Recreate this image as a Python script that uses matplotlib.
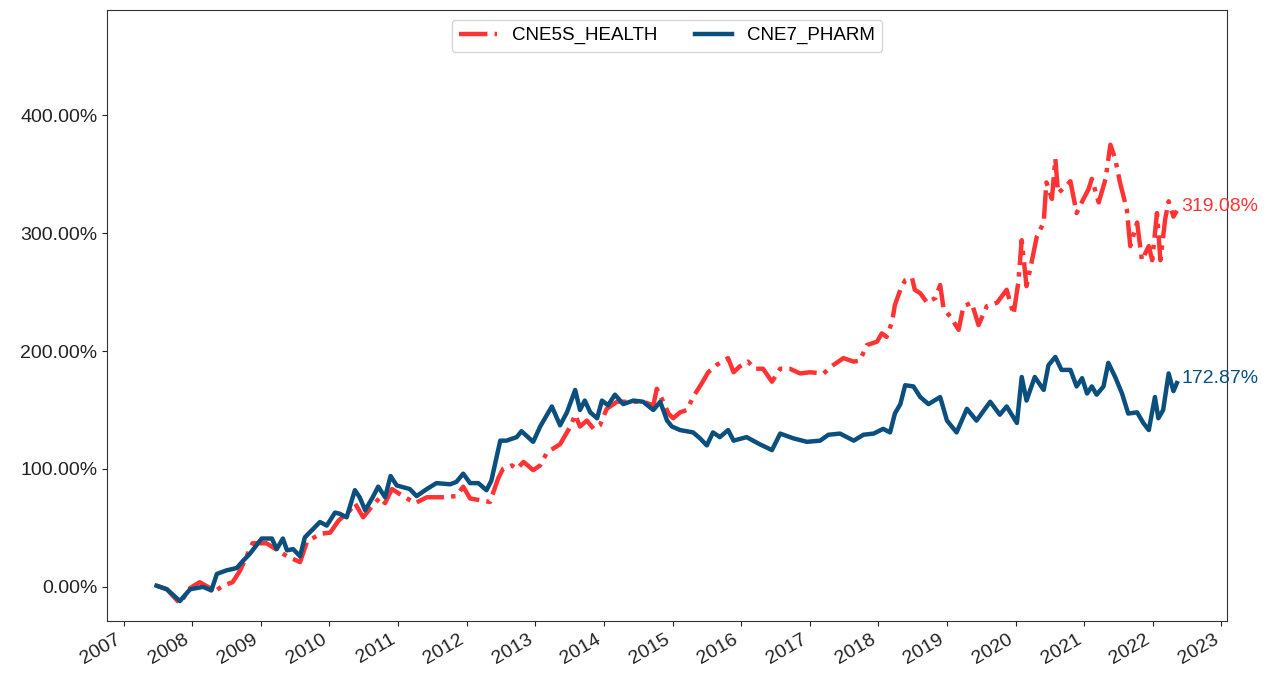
import numpy as np
import pandas as pd
import matplotlib
matplotlib.use("Agg")
import matplotlib.pyplot as plt
import matplotlib.dates as mdates
from matplotlib.ticker import PercentFormatter, MultipleLocator

plt.rcParams['font.family'] = ['Liberation Sans', 'DejaVu Sans']

# ------------------------------ data ------------------------------
# decimal years and cumulative return in %
health_t = [2007.48, 2007.63, 2007.82, 2007.97, 2008.11, 2008.26, 2008.30, 2008.45, 2008.59,
            2008.70, 2008.88, 2009.08, 2009.38, 2009.57, 2009.67, 2009.86, 2010.01, 2010.13,
            2010.30, 2010.37, 2010.49, 2010.63, 2010.74, 2010.81, 2010.91, 2011.07, 2011.25,
            2011.42, 2011.65, 2011.85, 2011.95, 2012.05, 2012.24, 2012.34, 2012.46, 2012.53,
            2012.66, 2012.73, 2012.83, 2012.97, 2013.07, 2013.17, 2013.36, 2013.51, 2013.58,
            2013.65, 2013.75, 2013.85, 2013.94, 2014.04, 2014.19, 2014.33, 2014.57, 2014.72,
            2014.77, 2014.84, 2014.94, 2015.01, 2015.11, 2015.21, 2015.30, 2015.43, 2015.52,
            2015.64, 2015.69, 2015.81, 2015.89, 2015.98, 2016.10, 2016.20, 2016.32, 2016.45,
            2016.57, 2016.71, 2016.86, 2017.00, 2017.20, 2017.34, 2017.49, 2017.64, 2017.73,
            2017.83, 2017.98, 2018.05, 2018.12, 2018.20, 2018.24, 2018.32, 2018.39, 2018.49,
            2018.53, 2018.61, 2018.71, 2018.83, 2018.90, 2018.95, 2019.05, 2019.17, 2019.24,
            2019.36, 2019.46, 2019.58, 2019.73, 2019.87, 2019.97, 2020.04, 2020.09, 2020.16,
            2020.24, 2020.31, 2020.41, 2020.45, 2020.53, 2020.58, 2020.62, 2020.72, 2020.80,
            2020.89, 2020.99, 2021.06, 2021.11, 2021.21, 2021.31, 2021.38, 2021.45, 2021.52,
            2021.62, 2021.67, 2021.77, 2021.84, 2021.94, 2021.99, 2022.06, 2022.11, 2022.18,
            2022.23, 2022.30, 2022.35]
health_v = [1, -2, -14, -1, 4, -1, -5, 1, 4,
            14, 37, 37, 26, 21, 38, 45, 46, 56,
            65, 71, 59, 69, 76, 71, 83, 77, 71,
            76, 76, 77, 85, 75, 73, 72, 92, 100,
            103, 100, 106, 99, 103, 114, 121, 136, 146,
            136, 141, 134, 137, 151, 157, 157, 157, 154,
            168, 160, 147, 143, 148, 150, 161, 173, 182,
            188, 190, 194, 182, 187, 191, 185, 185, 174,
            185, 185, 181, 182, 181, 188, 194, 191, 192,
            205, 208, 215, 212, 225, 239, 252, 260, 262,
            252, 249, 241, 245, 256, 236, 229, 218, 238,
            241, 222, 238, 241, 252, 231, 258, 294, 255,
            277, 297, 309, 343, 329, 363, 334, 339, 344,
            317, 329, 337, 346, 326, 346, 375, 363, 343,
            320, 289, 309, 277, 289, 277, 317, 277, 312,
            327, 314, 319.08]

pharm_t = [2007.48, 2007.63, 2007.82, 2007.97, 2008.16, 2008.28, 2008.36, 2008.50, 2008.65,
           2008.74, 2008.84, 2009.01, 2009.16, 2009.23, 2009.32, 2009.38, 2009.47, 2009.57,
           2009.64, 2009.86, 2009.96, 2010.08, 2010.15, 2010.25, 2010.37, 2010.44, 2010.52,
           2010.63, 2010.71, 2010.81, 2010.89, 2010.98, 2011.17, 2011.27, 2011.42, 2011.56,
           2011.76, 2011.85, 2011.95, 2012.05, 2012.17, 2012.29, 2012.36, 2012.49, 2012.58,
           2012.73, 2012.80, 2012.97, 2013.07, 2013.24, 2013.36, 2013.46, 2013.58, 2013.65,
           2013.72, 2013.80, 2013.90, 2013.97, 2014.06, 2014.16, 2014.28, 2014.43, 2014.57,
           2014.72, 2014.82, 2014.92, 2014.99, 2015.11, 2015.30, 2015.40, 2015.50, 2015.59,
           2015.69, 2015.81, 2015.89, 2016.08, 2016.27, 2016.45, 2016.57, 2016.76, 2016.96,
           2017.15, 2017.27, 2017.44, 2017.64, 2017.78, 2017.93, 2018.07, 2018.17, 2018.24,
           2018.32, 2018.39, 2018.51, 2018.61, 2018.73, 2018.90, 2019.00, 2019.14, 2019.29,
           2019.43, 2019.63, 2019.77, 2019.87, 2020.02, 2020.09, 2020.16, 2020.28, 2020.41,
           2020.48, 2020.58, 2020.67, 2020.80, 2020.89, 2020.97, 2021.04, 2021.11, 2021.18,
           2021.28, 2021.35, 2021.45, 2021.55, 2021.64, 2021.77, 2021.86, 2021.94, 2022.03,
           2022.08, 2022.15, 2022.23, 2022.30, 2022.35]
pharm_v = [1, -2, -12, -2, 0, -3, 11, 14, 16,
           22, 28, 41, 41, 32, 41, 31, 32, 26,
           42, 55, 52, 63, 62, 59, 82, 76, 65,
           76, 85, 76, 94, 86, 83, 77, 83, 88,
           87, 89, 96, 88, 88, 82, 90, 124, 124,
           127, 132, 123, 136, 153, 137, 148, 167, 150,
           158, 148, 143, 158, 154, 163, 155, 158, 157,
           150, 157, 141, 136, 133, 131, 126, 120, 131,
           127, 133, 124, 127, 121, 116, 130, 126, 123,
           124, 129, 130, 124, 129, 130, 134, 131, 147,
           155, 171, 170, 161, 155, 161, 141, 131, 151,
           141, 157, 146, 153, 139, 178, 158, 178, 167,
           188, 195, 184, 184, 170, 177, 164, 170, 163,
           170, 190, 178, 164, 147, 148, 139, 133, 161,
           143, 150, 181, 166, 172.87]

names = ['CNE5S_HEALTH', 'CNE7_PHARM']
colors = ['#ff3333', '#0b4f7e']


def to_dates(years):
    years = np.asarray(years)
    y0 = np.floor(years).astype(int)
    return [pd.Timestamp(int(y), 1, 1) + pd.Timedelta(days=float(f) * 365.25)
            for y, f in zip(y0, years - y0)]


health_d = to_dates(health_t)
pharm_d = to_dates(pharm_t)

# ------------------------------------- plot -------------------------------------
fig = plt.figure(figsize=(12.69, 6.84), dpi=100)
ax = fig.add_axes([0.0843, 0.092, 0.8827, 0.893])

ax.plot(health_d, health_v, color=colors[0], linestyle='-.', linewidth=3.2, label=names[0])
ax.plot(pharm_d, pharm_v, color=colors[1], linestyle='-', linewidth=3.2, label=names[1])

# end-of-series labels
for d, v, c in [(health_d[-1], health_v[-1], colors[0]), (pharm_d[-1], pharm_v[-1], colors[1])]:
    ax.annotate('{:.2f}%'.format(v), xy=(d, v), xytext=(3, 0), textcoords='offset points',
                color=c, fontsize=14, va='baseline', ha='left')

ax.set_xlim(to_dates([2006.757])[0], to_dates([2023.083])[0])
ax.set_ylim(-29, 489)
ax.yaxis.set_major_locator(MultipleLocator(100))
ax.yaxis.set_major_formatter(PercentFormatter(100, decimals=2))
ax.xaxis.set_major_locator(mdates.YearLocator())
ax.xaxis.set_major_formatter(mdates.DateFormatter('%Y'))
ax.tick_params(labelsize=14, colors='#222222')
for lab in ax.get_xticklabels():
    lab.set_rotation(30)
    lab.set_ha('right')
for s in ax.spines.values():
    s.set_color('#333333')

ax.legend(loc='upper center', ncol=2, fontsize=13.5)

fig.savefig('out.png', dpi=100)
